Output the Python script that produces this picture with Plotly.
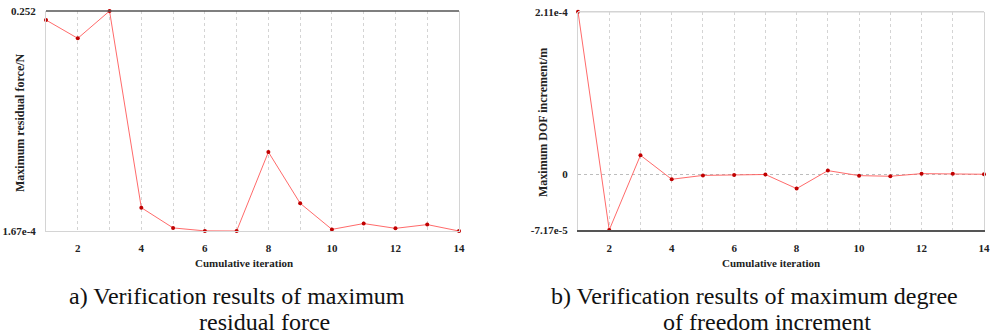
import plotly.graph_objects as go

iterations = list(range(1, 15))
residual_force = [0.2417, 0.2207, 0.252, 0.0269, 0.0037, 0.0003, 0.000167,
                  0.0906, 0.0319, 0.0020, 0.0087, 0.0032, 0.0075, 0.000167]
dof_increment = [2.11e-4, -7.17e-5, 2.51e-5, -6.0e-6, -1.0e-6, -0.4e-6, 0.2e-6,
                 -1.81e-5, 5.2e-6, -1.3e-6, -2.1e-6, 1.3e-6, 1.3e-6, 0.5e-6]
x_ticks = [2, 4, 6, 8, 10, 12, 14]
left_yticks = [1.67e-4, 0.252]
left_yticklabels = ["1.67e-4", "0.252"]
right_yticks = [-7.17e-5, 0, 2.11e-4]
right_yticklabels = ["-7.17e-5", "0", "2.11e-4"]

SERIF = "Liberation Serif"
LINE_C = "rgba(255,90,90,0.9)"
MARK_C = "#c00000"
LIGHT = "#d4d4d4"
DARK = "#555555"

W, H = 993, 334

fig = go.Figure()
fig.add_trace(go.Scatter(x=iterations, y=residual_force, mode="lines+markers",
                         line=dict(color=LINE_C, width=1),
                         marker=dict(color=MARK_C, size=4),
                         cliponaxis=False, xaxis="x", yaxis="y", showlegend=False))
fig.add_trace(go.Scatter(x=iterations, y=dof_increment, mode="lines+markers",
                         line=dict(color=LINE_C, width=1),
                         marker=dict(color=MARK_C, size=4),
                         cliponaxis=False, xaxis="x2", yaxis="y2", showlegend=False))

tickfont = dict(family=SERIF, size=11, color="#222", weight="bold")

xcommon = dict(range=[1, 14], tickvals=x_ticks, ticks="", showgrid=True,
               gridcolor=LIGHT, griddash="dot", gridwidth=1, automargin=False,
               minor=dict(dtick=1, tick0=1, showgrid=True, gridcolor=LIGHT, griddash="dot", gridwidth=1),
               tickfont=tickfont, zeroline=False, ticklabelstandoff=7)


def px_x(p):
    return p / W


def px_y(p):
    return 1 - p / H


fig.update_layout(
    template="none",
    width=W, height=H, margin=dict(l=0, r=0, t=0, b=0, pad=0, autoexpand=False),
    paper_bgcolor="white", plot_bgcolor="white",
    xaxis=dict(domain=[px_x(46), px_x(459)], anchor="y", showline=True, linecolor=LIGHT, linewidth=1, **xcommon),
    yaxis=dict(domain=[px_y(231), px_y(11)], anchor="x", range=[1.67e-4, 0.252], automargin=False,
               tickvals=left_yticks, ticktext=left_yticklabels, ticks="", showgrid=False,
               zeroline=False, showline=True, mirror=True, linecolor=LIGHT, linewidth=1,
               tickfont=tickfont, ticklabelstandoff=7),
    xaxis2=dict(domain=[px_x(578), px_x(984)], anchor="y2", showline=True, linecolor=DARK, linewidth=1.5, **xcommon),
    yaxis2=dict(domain=[px_y(230), px_y(11.7)], anchor="x2", range=[-7.17e-5, 2.11e-4], automargin=False,
                tickvals=right_yticks, ticktext=right_yticklabels, ticks="", showgrid=True,
                gridcolor="#bdbdbd", griddash="dot", zeroline=False, showline=True, mirror=True,
                linecolor=LIGHT, linewidth=1, tickfont=tickfont, ticklabelstandoff=7),
    shapes=[
        dict(type="line", xref="x domain", yref="y domain", x0=0, x1=1, y0=1, y1=1,
             line=dict(color=DARK, width=1.5)),
        dict(type="line", xref="x2 domain", yref="y2 domain", x0=0, x1=1, y0=1, y1=1,
             line=dict(color=LIGHT, width=1.5)),
    ],
)

titlefont = dict(family=SERIF, size=12, color="#222", weight="bold")
xtitlefont = dict(family=SERIF, size=11, color="#222", weight="bold")
capfont = dict(family=SERIF, size=24, color="#111")
ann = [
    dict(text="Maximum residual force/N", x=px_x(20), y=px_y(123), textangle=-90, font=titlefont),
    dict(text="Maximum DOF increment/m", x=px_x(543), y=px_y(123), textangle=-90, font=titlefont),
    dict(text="Cumulative iteration", x=px_x(244), y=px_y(263), font=xtitlefont),
    dict(text="Cumulative iteration", x=px_x(771), y=px_y(263), font=xtitlefont),
    dict(text="a) Verification results of maximum", x=px_x(237), y=px_y(296), font=capfont),
    dict(text="residual force", x=px_x(264), y=px_y(322), font=capfont),
    dict(text="b) Verification results of maximum degree", x=px_x(754), y=px_y(296), font=capfont),
    dict(text="of freedom increment", x=px_x(767), y=px_y(322), font=capfont),
]
for a in ann:
    a.update(xref="paper", yref="paper", showarrow=False, xanchor="center", yanchor="middle")
fig.update_layout(annotations=ann)

fig.write_html("out.html")
